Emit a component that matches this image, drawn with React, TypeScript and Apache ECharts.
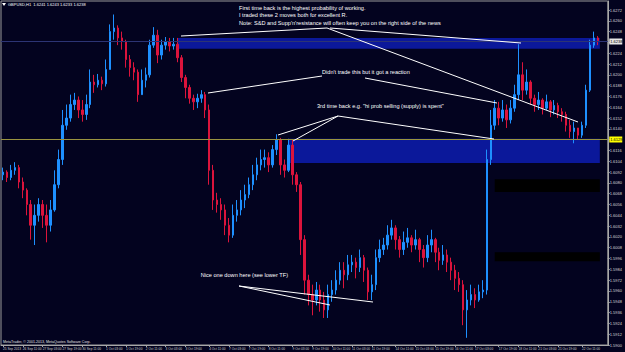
import React, { useEffect, useRef } from "react";
import * as echarts from "echarts";

// ---------- data (GBPUSD) ----------
const symbol = "GBPUSD,H1";
const firstOpen = 1.6089;
const closes = [
  1.6092, 1.6086, 1.6094, 1.6097, 1.6081, 1.6072, 1.6056, 1.6033, 1.6044, 1.6056,
  1.6044, 1.6033, 1.6050, 1.6078, 1.6106, 1.6144, 1.6152, 1.6167, 1.6172, 1.6161,
  1.6156, 1.6167, 1.6192, 1.6189, 1.6194, 1.6190, 1.6206, 1.6248, 1.6252, 1.6241,
  1.6237, 1.6217, 1.6208, 1.6203, 1.6178, 1.6194, 1.6200, 1.6233, 1.6244, 1.6222,
  1.6233, 1.6237, 1.6232, 1.6234, 1.6219, 1.6197, 1.6186, 1.6174, 1.6170, 1.6174,
  1.6178, 1.6161, 1.6094, 1.6061, 1.6056, 1.6050, 1.6033, 1.6022, 1.6044, 1.6050,
  1.6061, 1.6067, 1.6078, 1.6089, 1.6100, 1.6106, 1.6108, 1.6100, 1.6117, 1.6128,
  1.6100, 1.6094, 1.6122, 1.6089, 1.6078, 1.6017, 1.5972, 1.5956, 1.5950, 1.5961,
  1.5950, 1.5939, 1.5956, 1.5961, 1.5972, 1.5983, 1.5978, 1.5989, 1.5992, 1.5986,
  1.5997, 1.5983, 1.5959, 1.5967, 1.5997, 1.6006, 1.6011, 1.6022, 1.6030, 1.6017,
  1.6006, 1.6014, 1.6019, 1.6011, 1.6017, 1.6006, 1.5997, 1.6011, 1.6017, 1.6003,
  1.5994, 1.6000, 1.5992, 1.5983, 1.5974, 1.5967, 1.5939, 1.5950, 1.5956, 1.5950,
  1.5959, 1.5961, 1.6106, 1.6144, 1.6163, 1.6152, 1.6161, 1.6150, 1.6163, 1.6178,
  1.6200, 1.6183, 1.6192, 1.6174, 1.6167, 1.6172, 1.6163, 1.6170, 1.6161, 1.6166,
  1.6159, 1.6156, 1.6144, 1.6137, 1.6141, 1.6133, 1.6144, 1.6183, 1.6233, 1.6241,
  1.6238,
];
const highs = [
  1.6097, 1.6094, 1.6100, 1.6103, 1.6100, 1.6086, 1.6074, 1.6061, 1.6056, 1.6063,
  1.6061, 1.6056, 1.6061, 1.6094, 1.6117, 1.6161, 1.6167, 1.6178, 1.6180, 1.6176,
  1.6172, 1.6178, 1.6206, 1.6200, 1.6201, 1.6198, 1.6217, 1.6256, 1.6267, 1.6255,
  1.6248, 1.6239, 1.6222, 1.6214, 1.6206, 1.6206, 1.6208, 1.6239, 1.6253, 1.6250,
  1.6239, 1.6242, 1.6241, 1.6241, 1.6241, 1.6222, 1.6200, 1.6189, 1.6178, 1.6179,
  1.6183, 1.6181, 1.6167, 1.6100, 1.6069, 1.6063, 1.6056, 1.6041, 1.6056, 1.6061,
  1.6072, 1.6078, 1.6086, 1.6100, 1.6108, 1.6117, 1.6117, 1.6114, 1.6122, 1.6134,
  1.6130, 1.6106, 1.6129, 1.6128, 1.6092, 1.6081, 1.6022, 1.5978, 1.5967, 1.5970,
  1.5967, 1.5959, 1.5967, 1.5972, 1.5983, 1.5992, 1.5992, 1.6000, 1.6000, 1.5997,
  1.6006, 1.6000, 1.5986, 1.5978, 1.6006, 1.6017, 1.6019, 1.6033, 1.6039, 1.6033,
  1.6021, 1.6026, 1.6030, 1.6022, 1.6028, 1.6019, 1.6011, 1.6022, 1.6028, 1.6019,
  1.6008, 1.6011, 1.6006, 1.5997, 1.5989, 1.5981, 1.5972, 1.5961, 1.5967, 1.5963,
  1.5967, 1.5972, 1.6117, 1.6161, 1.6172, 1.6170, 1.6172, 1.6167, 1.6172, 1.6189,
  1.6234, 1.6214, 1.6206, 1.6194, 1.6178, 1.6181, 1.6174, 1.6178, 1.6172, 1.6172,
  1.6169, 1.6163, 1.6159, 1.6150, 1.6148, 1.6141, 1.6148, 1.6189, 1.6239, 1.6248,
  1.6243,
];
const lows = [
  1.6083, 1.6081, 1.6083, 1.6089, 1.6074, 1.6063, 1.6044, 1.6017, 1.6011, 1.6037,
  1.6030, 1.6014, 1.6026, 1.6048, 1.6074, 1.6100, 1.6139, 1.6148, 1.6161, 1.6152,
  1.6148, 1.6150, 1.6163, 1.6180, 1.6186, 1.6183, 1.6187, 1.6206, 1.6239, 1.6233,
  1.6228, 1.6208, 1.6198, 1.6194, 1.6170, 1.6178, 1.6186, 1.6197, 1.6230, 1.6213,
  1.6217, 1.6228, 1.6226, 1.6228, 1.6214, 1.6192, 1.6174, 1.6168, 1.6161, 1.6163,
  1.6169, 1.6152, 1.6078, 1.6050, 1.6047, 1.6039, 1.6022, 1.6014, 1.6019, 1.6037,
  1.6044, 1.6052, 1.6063, 1.6072, 1.6083, 1.6094, 1.6097, 1.6092, 1.6097, 1.6111,
  1.6089, 1.6086, 1.6092, 1.6078, 1.6070, 1.6000, 1.5956, 1.5944, 1.5933, 1.5944,
  1.5937, 1.5930, 1.5930, 1.5948, 1.5956, 1.5967, 1.5963, 1.5972, 1.5981, 1.5974,
  1.5981, 1.5970, 1.5950, 1.5950, 1.5961, 1.5992, 1.6000, 1.6006, 1.6017, 1.6006,
  1.5997, 1.6000, 1.6008, 1.6003, 1.6006, 1.5992, 1.5986, 1.5992, 1.6003, 1.5992,
  1.5983, 1.5989, 1.5981, 1.5972, 1.5961, 1.5959, 1.5922, 1.5908, 1.5944, 1.5941,
  1.5948, 1.5952, 1.5956, 1.6100, 1.6139, 1.6144, 1.6148, 1.6141, 1.6146, 1.6159,
  1.6172, 1.6172, 1.6178, 1.6167, 1.6159, 1.6161, 1.6156, 1.6161, 1.6153, 1.6156,
  1.6152, 1.6148, 1.6137, 1.6130, 1.6124, 1.6128, 1.6130, 1.6141, 1.6181, 1.6230,
  1.6233,
];
const timeLabels = [
  "25 Sep 2013", "26 Sep 11:00", "27 Sep 03:00", "27 Sep 19:00", "30 Sep 11:00",
  "1 Oct 03:00", "1 Oct 19:00", "2 Oct 11:00", "3 Oct 03:00", "3 Oct 19:00",
  "4 Oct 11:00", "7 Oct 03:00", "7 Oct 19:00", "8 Oct 11:00", "9 Oct 03:00",
  "9 Oct 19:00", "10 Oct 11:00", "11 Oct 03:00", "11 Oct 19:00", "14 Oct 11:00",
  "15 Oct 03:00", "15 Oct 19:00", "16 Oct 11:00", "17 Oct 03:00", "17 Oct 19:00",
  "18 Oct 11:00", "21 Oct 03:00", "21 Oct 19:00", "22 Oct 11:00",
];
// zones: [first candle index, top price, bottom price]
const blueZones = [
  [44, 1.6241, 1.6229],
  [72, 1.6129, 1.6102],
];
const blackZones = [
  [124, 1.6084, 1.6070],
  [124, 1.6003, 1.5993],
];
const levelLine = 1.6129;
const yMin = 1.59;
const yMax = 1.6282;
const yStep = 0.0012;

// ---------- layout / style ----------
const W = 625;
const H = 352;
const SHIFT = 2; // empty bars at the right (chart shift)
const CANDLES_PER_LABEL = 5.217;
const FONT = "Liberation Sans";
const BG = "#03031f";
const BULL = "#1e90ff";
const BEAR = "#dc143c";
const ZONE_BLUE = "#0b189a";

const ohlc = closes.map((c, i) => [i === 0 ? firstOpen : closes[i - 1], c, lows[i], highs[i]]);
const last = ohlc[ohlc.length - 1];
const bidPrice = closes[closes.length - 1];
const lastIndex = closes.length - 1;
const markedPrices = [bidPrice, levelLine];

const labelAt = new Map<number, string>();
timeLabels.forEach((t, k) => labelAt.set(Math.max(0, Math.round(k * CANDLES_PER_LABEL - 0.5)), t));
const categories = Array.from({ length: closes.length + SHIFT }, (_, i) => String(i));

function zoneSeries(data: number[][], color: string) {
  return {
    type: "custom",
    z: 1,
    silent: true,
    data,
    encode: { x: 0, y: [1, 2] },
    renderItem: (params: any, api: any) => {
      const start = api.value(0);
      const top = api.value(1);
      const bottom = api.value(2);
      const p1 = api.coord([start, top]);
      const p2 = api.coord([lastIndex, bottom]);
      const half = api.size([1, 0])[0] / 2;
      return {
        type: "rect",
        shape: { x: p1[0], y: p1[1], width: p2[0] + half - p1[0], height: p2[1] - p1[1] },
        style: { fill: color },
      };
    },
  };
}

function priceLineSeries(price: number, lineColor: string, labelBg: string) {
  return {
    type: "custom",
    z: 4,
    silent: true,
    clip: false,
    data: [[0, price]],
    encode: { x: 0, y: 1 },
    renderItem: (params: any, api: any) => {
      const cs = params.coordSys;
      const y = Math.round(api.coord([0, api.value(1)])[1]) + 0.5;
      const x2 = cs.x + cs.width;
      return {
        type: "group",
        children: [
          { type: "line", shape: { x1: cs.x, y1: y, x2, y2: y }, style: { stroke: lineColor, lineWidth: 1 } },
          { type: "rect", shape: { x: x2 + 1.5, y: y - 3, width: 13, height: 6 }, style: { fill: labelBg } },
          {
            type: "text",
            style: {
              text: Number(api.value(1)).toFixed(4),
              x: x2 + 2.5,
              y,
              fill: "#000000",
              fontSize: 4,
              fontFamily: FONT,
              textVerticalAlign: "middle",
            },
          },
        ],
      };
    },
  };
}

const whiteText = (text: string, x: number, y: number, align = "left") => ({
  type: "text",
  z: 100,
  silent: true,
  style: {
    text,
    x,
    y,
    fill: "#ffffff",
    fontSize: 5.6,
    fontFamily: FONT,
    textAlign: align,
    textVerticalAlign: "middle",
  },
});
const pointer = (x1: number, y1: number, x2: number, y2: number) => ({
  type: "line",
  z: 100,
  silent: true,
  shape: { x1, y1, x2, y2 },
  style: { stroke: "#ffffff", lineWidth: 1 },
});

const option: any = {
  animation: false,
  backgroundColor: BG,
  grid: {
    left: 1,
    right: 14,
    top: 1,
    bottom: 7,
    show: true,
    borderColor: "#9a9a9a",
    borderWidth: 1,
  },
  xAxis: {
    type: "category",
    data: categories,
    boundaryGap: true,
    axisLine: { lineStyle: { color: "#a8a8a8", width: 1 } },
    axisTick: {
      show: true,
      length: 2,
      alignWithLabel: true,
      interval: (idx: number) => labelAt.has(idx),
      lineStyle: { color: "#a8a8a8" },
    },
    axisLabel: {
      interval: (idx: number) => labelAt.has(idx),
      formatter: (_v: string, idx: number) => labelAt.get(idx) ?? "",
      fontSize: 3.2,
      fontFamily: FONT,
      color: "#d0d0d0",
      align: "left",
      margin: 2,
    },
    splitLine: { show: false },
  },
  yAxis: {
    type: "value",
    position: "right",
    min: yMin,
    max: yMax,
    interval: yStep,
    axisLine: { show: true, lineStyle: { color: "#a8a8a8", width: 1 } },
    axisTick: { show: true, length: 2, lineStyle: { color: "#a8a8a8" } },
    axisLabel: {
      fontSize: 4,
      fontFamily: FONT,
      color: "#d8d8d8",
      margin: 2,
      showMaxLabel: false,
      formatter: (v: number) =>
        markedPrices.some((p) => Math.abs(p - v) < yStep * 0.6) ? "" : v.toFixed(4),
    },
    splitLine: { show: false },
  },
  series: [
    zoneSeries(blueZones, ZONE_BLUE),
    zoneSeries(blackZones, "#000000"),
    {
      type: "candlestick",
      z: 3,
      data: ohlc,
      barWidth: 2,
      itemStyle: {
        color: BULL,
        color0: BEAR,
        borderColor: BULL,
        borderColor0: BEAR,
        borderWidth: 1,
      },
    },
    priceLineSeries(bidPrice, "#2c3474", "#e6e6e6"),
    priceLineSeries(levelLine, "#9a9440", "#ffff00"),
  ],
  graphic: [
    {
      type: "polygon",
      silent: true,
      shape: { points: [[2, 3], [6, 3], [4, 6]] },
      style: { fill: "#ffffff" },
    },
    {
      type: "text",
      silent: true,
      style: {
        text: `${symbol}  ${last[0].toFixed(4)} ${last[3].toFixed(4)} ${last[2].toFixed(4)} ${last[1].toFixed(4)}`,
        x: 8,
        y: 4.5,
        fill: "#ffffff",
        fontSize: 4,
        fontFamily: FONT,
        textVerticalAlign: "middle",
      },
    },
    {
      type: "text",
      silent: true,
      style: {
        text: "MetaTrader, © 2001-2013, MetaQuotes Software Corp.",
        x: 3,
        y: 341.5,
        fill: "#e0e0e0",
        fontSize: 3.6,
        fontFamily: FONT,
        textVerticalAlign: "middle",
      },
    },
    whiteText("First time back is the highest probability of working.", 239, 7.5),
    whiteText("I traded these 2 moves both for excellent R.", 239, 15),
    whiteText("Note: S&D and Supp'n'resistance will often keep you on the right side of the news", 239, 22.5),
    whiteText("Didn't trade this but it got a reaction", 322, 72),
    whiteText("3rd time back e.g. \"hi prob selling (supply) is spent\"", 317, 106),
    whiteText("Nice one down here (see lower TF)", 288, 275, "right"),
    pointer(181, 36, 327, 28),
    pointer(330, 28, 521, 43),
    pointer(327, 28, 578, 122),
    pointer(208, 93, 322, 76),
    pointer(365, 78, 497, 103),
    pointer(338, 116, 278, 135),
    pointer(338, 116, 293, 141),
    pointer(338, 116, 494, 139),
    pointer(239, 286, 330, 305),
    pointer(239, 286, 373, 302),
  ],
};

export default function App() {
  const ref = useRef<HTMLDivElement>(null);
  useEffect(() => {
    if (!ref.current) return;
    const chart = echarts.init(ref.current, null, { renderer: "svg" });
    chart.setOption(option);
    return () => chart.dispose();
  }, []);
  return (
    <div
      ref={ref}
      style={{ position: "fixed", left: 0, top: 0, width: W, height: H, background: BG }}
    />
  );
}
